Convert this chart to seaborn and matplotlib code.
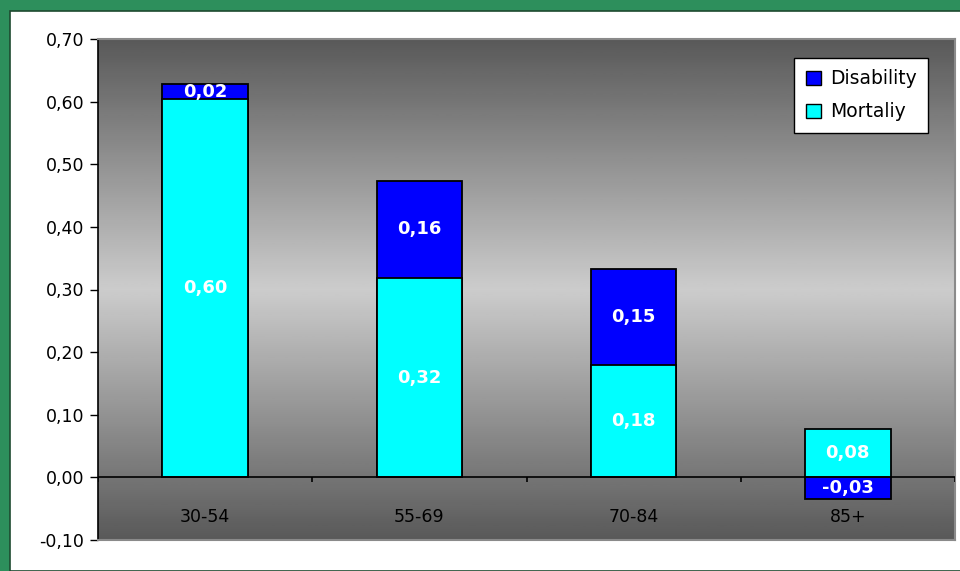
import numpy as np
import pandas as pd
import matplotlib
matplotlib.use("Agg")
import matplotlib.pyplot as plt
import seaborn as sns
from matplotlib.patches import Rectangle, Patch

categories = ["30-54", "55-69", "70-84", "85+"]
mortality = [0.604, 0.318, 0.179, 0.077]
disability = [0.024, 0.156, 0.154, -0.034]
yticks = [-0.10, 0.00, 0.10, 0.20, 0.30, 0.40, 0.50, 0.60, 0.70]

sns.set_theme(style="white")
plt.rcParams["font.family"] = ["DejaVu Sans"]
plt.rcParams["text.color"] = "black"

CYAN = "#00ffff"
BLUE = "#0000ff"

fig = plt.figure(figsize=(9.6, 5.71), dpi=100)
fig.patch.set_facecolor("#2d8f5c")
# white panel
fig.patches.append(Rectangle((10 / 960, 0), 1, 1 - 11 / 571, transform=fig.transFigure,
                             facecolor="white", edgecolor="#1e4a30", linewidth=1.2, zorder=-10))

ax = fig.add_axes([98 / 960, 1 - 540 / 571, 857 / 960, 501 / 571])
ax.set_zorder(1)

# gradient background
grad = np.concatenate([np.linspace(0.35, 0.80, 128), np.linspace(0.80, 0.35, 128)])
ax.imshow(grad.reshape(-1, 1), cmap="gray", vmin=0, vmax=1, aspect="auto",
          extent=[0, 1, 0, 1], transform=ax.transAxes, zorder=0)

df = pd.DataFrame({
    "cat": categories,
    "mort": mortality,
    "dis": disability,
})
df["blue_top"] = [m + d if d > 0 else d for m, d in zip(df["mort"], df["dis"])]

sns.barplot(data=df, x="cat", y="blue_top", color=BLUE, saturation=1, width=0.4,
            edgecolor="black", linewidth=1.3, ax=ax, zorder=2)
sns.barplot(data=df, x="cat", y="mort", color=CYAN, saturation=1, width=0.4,
            edgecolor="black", linewidth=1.3, ax=ax, zorder=3)

def fmt(v):
    return f"{v:.2f}".replace(".", ",")

for i, (m, d) in enumerate(zip(mortality, disability)):
    ax.text(i, m / 2, fmt(m), ha="center", va="center", color="white",
            fontsize=13, fontweight="bold", zorder=5)
    yc = m + d / 2 if d > 0 else d / 2
    ax.text(i, yc, fmt(d), ha="center", va="center", color="white",
            fontsize=13, fontweight="bold", zorder=5)

ax.set_xlim(-0.5, 3.5)
ax.set_ylim(-0.10, 0.70)
ax.set_yticks(yticks)
ax.set_yticklabels([fmt(v) for v in yticks], fontsize=12.5, color="black")
ax.tick_params(axis="y", direction="out", length=6, width=1, color="black", pad=4, left=True)
ax.set_xticks([])
ax.set_xlabel("")
ax.set_ylabel("")

# zero axis line and category boundary ticks
ax.axhline(0, color="black", linewidth=1.2, zorder=4)
ax.vlines(np.arange(len(categories) + 1) - 0.5, -0.008, 0, color="black", linewidth=1.2, zorder=4)
for i, c in enumerate(categories):
    ax.text(i, -0.063, c, ha="center", va="center", fontsize=12.5, color="black", zorder=5)

for s in ["top", "right", "bottom"]:
    ax.spines[s].set_color("#8a8a8a")
    ax.spines[s].set_linewidth(1.5)
ax.spines["left"].set_color("black")
ax.spines["left"].set_linewidth(1.2)

handles = [Patch(facecolor=BLUE, edgecolor="black", label="Disability"),
           Patch(facecolor=CYAN, edgecolor="black", label="Mortaliy")]
leg = ax.legend(handles=handles, loc="upper right",
                bbox_to_anchor=((928 - 98) / 857, 1 - 19 / 501),
                borderaxespad=0, fontsize=13.5, frameon=True, fancybox=False, framealpha=1,
                edgecolor="black", handlelength=0.8, handleheight=0.8, handletextpad=0.5,
                borderpad=0.6, labelspacing=0.75)
leg.get_frame().set_linewidth(1)
for t in leg.get_texts():
    t.set_color("black")

fig.savefig("out.png", dpi=100)
